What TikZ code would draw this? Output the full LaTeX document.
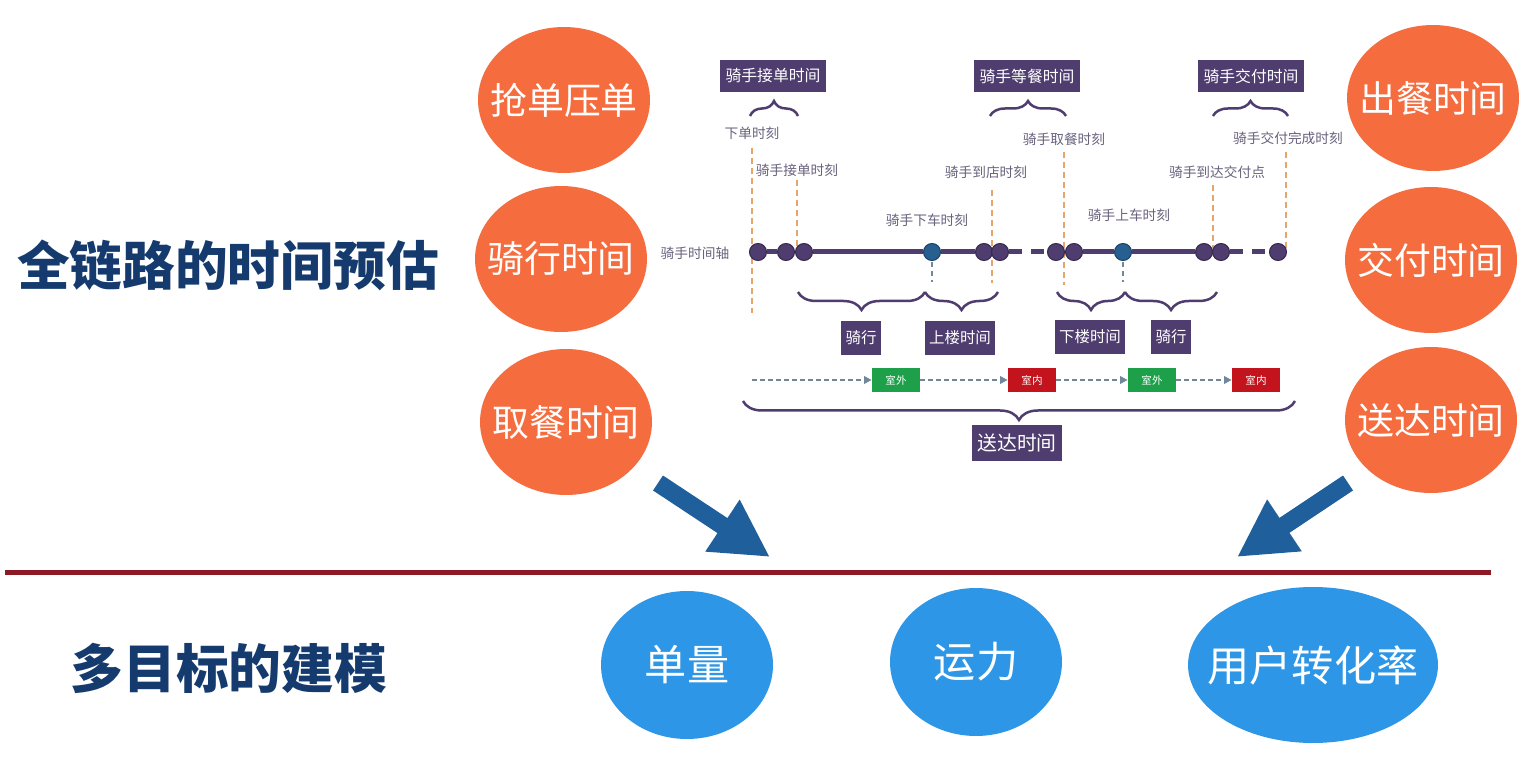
\documentclass[tikz,border=0pt]{standalone}
\usepackage{fontspec}
\setmainfont{Noto Sans CJK SC}
\usetikzlibrary{shapes.geometric, arrows.meta, decorations.pathreplacing}

\definecolor{titlenavy}{RGB}{20,58,110}
\definecolor{phaseorange}{RGB}{245,108,62}
\definecolor{goalblue}{RGB}{45,150,230}
\definecolor{boxpurple}{RGB}{78,61,110}
\definecolor{momentgrey}{RGB}{105,98,125}
\definecolor{haltblue}{RGB}{40,95,145}
\definecolor{guideorange}{RGB}{232,165,105}
\definecolor{flowgrey}{RGB}{115,135,155}
\definecolor{outgreen}{RGB}{30,160,75}
\definecolor{inred}{RGB}{195,20,30}
\definecolor{arrowblue}{RGB}{31,95,155}
\definecolor{dividerred}{RGB}{140,26,36}

\begin{document}
\begin{tikzpicture}[
    x=0.02cm, y=-0.02cm,
    heading/.style={text=titlenavy, font=\fontsize{30}{30}\selectfont\bfseries},
    phase/.style={ellipse, fill=phaseorange, text=white, minimum width=3.44cm, minimum height=2.92cm, inner xsep=-0.3cm, inner ysep=0pt, font=\fontsize{21}{21}\selectfont},
    goal/.style={ellipse, fill=goalblue, text=white, minimum width=3.44cm, minimum height=2.96cm, inner xsep=-0.4cm, inner ysep=0pt, font=\fontsize{24}{24}\selectfont},
    tagbox/.style={fill=boxpurple, text=white, inner xsep=3pt, inner ysep=0pt, minimum height=0.64cm, font=\fontsize{9}{9}\selectfont},
    partbox/.style={tagbox, minimum height=0.7cm, inner xsep=2.5pt, font=\fontsize{8.8}{8.8}\selectfont},
    moment/.style={text=momentgrey, inner sep=0pt, font=\fontsize{7.8}{7.8}\selectfont},
    dot/.style={circle, fill=boxpurple, draw=boxpurple!70!black, line width=0.6pt, minimum size=0.34cm, inner sep=0pt},
    halt/.style={dot, fill=haltblue, draw=haltblue!70!black},
    axis/.style={draw=boxpurple, line width=0.1cm},
    dashaxis/.style={axis, dash pattern=on 0.26cm off 0.18cm},
    guide/.style={draw=guideorange, line width=0.04cm, dash pattern=on 0.12cm off 0.08cm},
    drop/.style={draw=flowgrey, line width=0.04cm, dash pattern=on 0.1cm off 0.08cm},
    curly/.style={decorate, decoration={brace, amplitude=#1}, draw=boxpurple, line width=0.05cm},
    outdoor/.style={fill=outgreen, text=white, minimum width=0.96cm, minimum height=0.5cm, inner sep=0pt, font=\fontsize{6}{6}\selectfont},
    indoor/.style={outdoor, fill=inred},
    flow/.style={draw=flowgrey, line width=0.05cm, dash pattern=on 0.1cm off 0.06cm, -{Triangle[length=0.15cm, width=0.15cm]}},
    bigarrow/.style={draw=arrowblue, line width=0.36cm, -{Triangle[length=1.14cm, width=1.16cm]}},
    divider/.style={draw=dividerred, line width=0.1cm}
]
    \fill[white] (0,0) rectangle (1532,773);

    \node[heading] (chain) at (228,265) {全链路的时间预估};
    \node[heading] (multi) at (229,668) {多目标的建模};

    \node[phase] (grab) at (564,100) {抢单压单};
    \node[phase] (ride) at (561,259) {骑行时间};
    \node[phase] (pick) at (566,422) {取餐时间};
    \node[phase] (cook) at (1433,98) {出餐时间};
    \node[phase] (hand) at (1431,260) {交付时间};
    \node[phase] (deliver) at (1431,420) {送达时间};

    \node[goal] (volume) at (687,665) {单量};
    \node[goal] (capacity) at (976,662) {运力};
    \node[goal, minimum width=5cm, minimum height=3.12cm] (convert) at (1313,665) {用户转化率};

    \coordinate (sepL) at (5,572);
    \coordinate (sepR) at (1491,572);
    \draw[divider] (sepL) -- (sepR);

    \coordinate (arrL0) at (658,483);
    \coordinate (arrL1) at (770,557);
    \coordinate (arrR0) at (1348,483);
    \coordinate (arrR1) at (1237,557);
    \draw[bigarrow] (arrL0) -- (arrL1);
    \draw[bigarrow] (arrR0) -- (arrR1);

    \node[tagbox] (tRecv) at (773,76) {骑手接单时间};
    \node[tagbox] (tWait) at (1027,76) {骑手等餐时间};
    \node[tagbox] (tHand) at (1251,76) {骑手交付时间};
    \coordinate (bRecvL) at (750,116);
    \coordinate (bRecvR) at (798,116);
    \coordinate (bWaitL) at (990,116);
    \coordinate (bWaitR) at (1066,116);
    \coordinate (bHandL) at (1213,116);
    \coordinate (bHandR) at (1288,116);
    \draw[curly=0.3cm] (bRecvL) -- (bRecvR);
    \draw[curly=0.3cm] (bWaitL) -- (bWaitR);
    \draw[curly=0.3cm] (bHandL) -- (bHandR);

    \node[moment] (mOrder) at (752,133) {下单时刻};
    \node[moment] (mRecv) at (797,170) {骑手接单时刻};
    \node[moment] (mShop) at (986,172) {骑手到店时刻};
    \node[moment] (mTake) at (1064,139) {骑手取餐时刻};
    \node[moment] (mOff) at (927,220) {骑手下车时刻};
    \node[moment] (mOn) at (1129,215) {骑手上车时刻};
    \node[moment] (mArrive) at (1217,172) {骑手到达交付点};
    \node[moment] (mDone) at (1288,138) {骑手交付完成时刻};
    \node[moment] (axisname) at (695,253) {骑手时间轴};

    \draw[guide] (752,148) coordinate (gOrderA) -- (752,313) coordinate (gOrderB);
    \draw[guide] (797,180) coordinate (gRecvA) -- (797,250) coordinate (gRecvB);
    \draw[guide] (992,190) coordinate (gShopA) -- (992,283) coordinate (gShopB);
    \draw[guide] (1064,152) coordinate (gTakeA) -- (1064,285) coordinate (gTakeB);
    \draw[guide] (1213,185) coordinate (gArriveA) -- (1213,248) coordinate (gArriveB);
    \draw[guide] (1286,152) coordinate (gDoneA) -- (1286,248) coordinate (gDoneB);
    \draw[drop] (932,262) coordinate (gOffA) -- (932,282) coordinate (gOffB);
    \draw[drop] (1123,262) coordinate (gOnA) -- (1123,282) coordinate (gOnB);

    \node[dot] (d1) at (758,252) {};
    \node[dot] (d2) at (786,252) {};
    \node[dot] (d3) at (804,252) {};
    \node[halt] (h1) at (932,252) {};
    \node[dot] (d4) at (984,252) {};
    \node[dot] (d5) at (1000,252) {};
    \node[dot] (d6) at (1056,252) {};
    \node[dot] (d7) at (1074,252) {};
    \node[halt] (h2) at (1123,252) {};
    \node[dot] (d8) at (1204,252) {};
    \node[dot] (d9) at (1221,252) {};
    \node[dot] (d10) at (1278,252) {};
    \draw[dashaxis] (d1) -- (d2);
    \draw[axis] (d3) -- (h1) -- (d4);
    \draw[dashaxis] (d5) -- (d6);
    \draw[axis] (d7) -- (h2) -- (d8);
    \draw[dashaxis] (d9) -- (d10);

    \coordinate (pA) at (798,292);
    \coordinate (pB) at (925,292);
    \coordinate (pC) at (998,292);
    \coordinate (pD) at (1057,292);
    \coordinate (pE) at (1125,292);
    \coordinate (pF) at (1217,292);
    \draw[curly=0.36cm] (pB) -- (pA);
    \draw[curly=0.36cm] (pC) -- (pB);
    \draw[curly=0.36cm] (pE) -- (pD);
    \draw[curly=0.36cm] (pF) -- (pE);
    \node[partbox] (sRide1) at (861,338) {骑行};
    \node[partbox] (sUp) at (960,338) {上楼时间};
    \node[partbox] (sDown) at (1090,337) {下楼时间};
    \node[partbox] (sRide2) at (1171,337) {骑行};

    \coordinate (rowStart) at (752,380);
    \node[outdoor] (out1) at (896,380) {室外};
    \node[indoor] (in1) at (1032,380) {室内};
    \node[outdoor] (out2) at (1152,380) {室外};
    \node[indoor] (in2) at (1256,380) {室内};
    \draw[flow] (rowStart) -- (out1);
    \draw[flow] (out1) -- (in1);
    \draw[flow] (in1) -- (out2);
    \draw[flow] (out2) -- (in2);

    \coordinate (allL) at (743,401);
    \coordinate (allR) at (1295,401);
    \draw[curly=0.38cm] (allR) -- (allL);
    \node[tagbox, minimum height=0.74cm, font=\fontsize{11.3}{11.3}\selectfont] (total) at (1017,443) {送达时间};
\end{tikzpicture}
\end{document}
